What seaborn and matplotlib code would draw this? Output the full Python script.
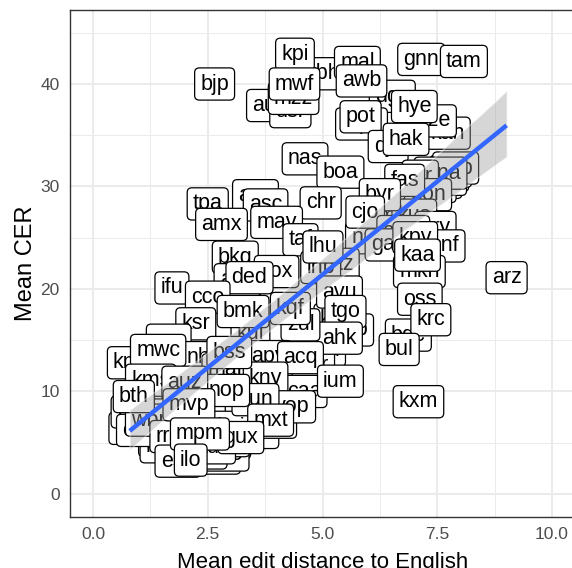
import matplotlib
matplotlib.use("Agg")
import matplotlib.pyplot as plt
import seaborn as sns
import pandas as pd
from matplotlib.ticker import MultipleLocator

# ---- data (language code, mean edit distance to English, mean CER) ----
langs = ["tiy", "xsi", "nii", "kwf", "aak", "wnu", "zia", "yut", "mcq", "bef",
         "hla", "tte", "swp", "kgf", "bch", "sny", "ptu", "aia", "gdn", "mee",
         "rwo", "ipi", "tbc", "wiu", "lid", "kje", "amm", "boj", "ino", "dob",
         "kyc", "kgk", "nab", "cbu", "ubr", "caa", "tbg", "kew", "sey", "nhe",
         "ign", "mbt", "leu", "zaa", "pmf", "mek", "iws", "nak", "gaz", "bvr",
         "heg", "pwg", "yby", "kgp", "wos",
         "kbh", "kpi", "mal", "gnn", "tam", "aui", "usr", "mzz", "bjp", "mwf",
         "dgz", "awb", "mpx", "pot", "kan", "kze", "hye", "dje", "hak", "nas",
         "mna", "ter", "pon", "boa", "fas", "kus", "byr", "apz",
         "chr", "cjo", "ury", "snf", "ame", "gaw", "kpv", "mkn", "kaa",
         "asc", "tpa", "amx", "mav", "taf", "inb", "lhu", "bkq", "kox",
         "agn", "ded", "ifu", "cco", "avu", "tgo", "arz", "oss", "bqc",
         "krc", "bul", "ahk", "zul", "kul", "bmk", "kqf", "ksr", "gvc", "nhi",
         "mar", "knv", "mwc", "apy", "acq", "kny", "ium", "yop", "hun", "kxm",
         "kms", "nop", "auz", "bss", "cof", "cuk", "lex", "wbp", "rro", "mxt",
         "tuc", "bth", "mvp", "gux", "ese", "mpm", "ilo"]
edit_dist = [1.35, 1.50, 1.80, 2.00, 2.40, 2.60, 2.80, 3.00, 3.30, 3.60,
             3.00, 2.50, 1.30, 2.20, 3.90, 3.40, 1.90, 4.20, 2.70, 1.40,
             2.90, 3.60, 4.00, 3.10, 2.60, 2.50, 2.20, 3.00, 1.90, 2.90,
             1.50, 5.30, 5.60, 5.00, 4.80, 4.60, 7.20, 7.50, 7.70, 7.40,
             6.90, 6.60, 1.00, 1.30, 1.50, 1.10, 1.80, 6.00, 5.30, 7.80,
             2.30, 0.90, 1.20, 7.90, 7.60,
             5.00, 4.40, 5.76, 7.15, 8.08, 3.78, 4.30, 4.37, 2.65, 4.39,
             6.52, 5.85, 5.85, 5.83, 7.72, 7.43, 7.00, 6.43, 6.82, 4.62,
             7.57, 7.13, 7.30, 5.39, 6.79, 7.00, 6.25, 3.54,
             4.96, 5.93, 7.46, 7.67, 6.76, 6.48, 7.02, 7.11, 7.07,
             3.76, 2.50, 2.80, 4.00, 4.52, 4.96, 5.01, 3.10, 4.00,
             3.15, 3.41, 1.72, 2.50, 5.37, 5.50, 9.01, 7.12, 6.87,
             7.36, 6.67, 5.37, 4.52, 3.43, 3.27, 4.30, 2.24, 1.65, 2.35,
             2.90, 0.80, 1.42, 3.83, 4.52, 3.76, 5.39, 4.35, 3.54, 7.09,
             1.26, 2.90, 2.00, 2.97, 0.83, 1.00, 1.70, 1.26, 1.65, 3.87,
             2.67, 0.89, 2.09, 3.22, 1.85, 2.33, 2.13]
mean_cer = [5.2, 5.0, 4.2, 6.5, 4.0, 6.8, 8.5, 5.0, 7.0, 6.0,
            9.5, 9.0, 9.0, 7.5, 9.5, 11.5, 11.8, 11.0, 3.5, 6.5,
            3.8, 8.2, 7.0, 11.0, 10.8, 4.0, 5.5, 6.5, 4.6, 5.2,
            4.6, 17.0, 16.0, 14.0, 12.5, 10.0, 29.3, 30.4, 31.1, 30.0,
            28.2, 27.1, 6.8, 7.9, 8.6, 7.1, 9.7, 25.0, 22.4, 31.5,
            11.5, 6.4, 7.5, 31.8, 30.7,
            41.0, 42.9, 42.1, 42.4, 42.2, 37.9, 37.3, 38.6, 40.0, 40.0,
            38.8, 40.3, 36.1, 36.8, 35.2, 36.4, 37.8, 33.9, 34.6, 32.7,
            31.3, 31.0, 29.2, 31.4, 30.6, 27.2, 29.2, 29.1,
            28.4, 27.5, 26.0, 24.2, 25.6, 24.3, 25.0, 21.7, 23.3,
            28.2, 28.3, 26.3, 26.5, 24.8, 22.1, 24.1, 23.1, 21.7,
            20.9, 21.1, 20.1, 19.2, 19.7, 17.8, 21.1, 19.0, 15.5,
            17.0, 14.1, 15.2, 16.5, 15.7, 17.8, 18.1, 16.6, 15.0, 13.3,
            12.1, 12.8, 14.0, 13.4, 13.3, 11.3, 11.0, 8.5, 9.2, 9.0,
            11.1, 10.1, 10.9, 13.8, 8.0, 6.2, 7.7, 7.2, 5.6, 7.2,
            4.5, 9.5, 8.7, 5.5, 3.2, 5.85, 3.3]

x_ticks = [0.0, 2.5, 5.0, 7.5, 10.0]
x_tick_labels = ["0.0", "2.5", "5.0", "7.5", "10.0"]
y_ticks = [0, 10, 20, 30, 40]
y_tick_labels = ["0", "10", "20", "30", "40"]

df = pd.DataFrame({"lang": langs, "edit": edit_dist, "cer": mean_cer})

sns.set_theme(style="white")
plt.rcParams["font.family"] = ["Liberation Sans", "DejaVu Sans"]

fig = plt.figure(figsize=(5.72, 5.68), dpi=100)
ax = fig.add_axes([70 / 572, 51 / 568, 505 / 572, 507.3 / 568])

# labels (geom_label-like)
for _, r in df.iterrows():
    ax.text(r["edit"], r["cer"], r["lang"], ha="center", va="center",
            fontsize=15.5, color="black", zorder=3,
            bbox=dict(boxstyle="round,pad=0.26,rounding_size=0.22",
                      fc="white", ec="black", lw=0.9))

# regression line with confidence band
n_before = len(ax.collections)
sns.regplot(data=df, x="edit", y="cer", scatter=False, ci=95, seed=3,
            n_boot=2000, color="#3366FF", ax=ax,
            line_kws=dict(lw=3.2, zorder=6, solid_capstyle="butt"))
for coll in ax.collections[n_before:]:
    coll.set_facecolor("#999999")
    coll.set_alpha(0.4)
    coll.set_zorder(5)

ax.set_xlim(-0.5, 10.5)
ax.set_ylim(-2.25, 47.25)
ax.set_xticks(x_ticks)
ax.set_xticklabels(x_tick_labels)
ax.set_yticks(y_ticks)
ax.set_yticklabels(y_tick_labels)
ax.xaxis.set_minor_locator(MultipleLocator(1.25))
ax.yaxis.set_minor_locator(MultipleLocator(5))
ax.set_axisbelow(True)
ax.grid(which="major", color="#EBEBEB", lw=1.4, zorder=0)
ax.grid(which="minor", color="#EBEBEB", lw=0.7, zorder=0)
ax.tick_params(which="major", length=4.5, width=1.0, color="#333333",
               labelsize=12.5, labelcolor="#4D4D4D", pad=3)
ax.tick_params(which="minor", length=0)
for s in ax.spines.values():
    s.set_color("#333333")
    s.set_linewidth(1.0)
ax.set_facecolor("white")

ax.set_xlabel("Mean edit distance to English", fontsize=16, color="black",
              labelpad=7)
ax.set_ylabel("Mean CER", fontsize=17, color="black", labelpad=2)

fig.savefig("out.png", dpi=100)
